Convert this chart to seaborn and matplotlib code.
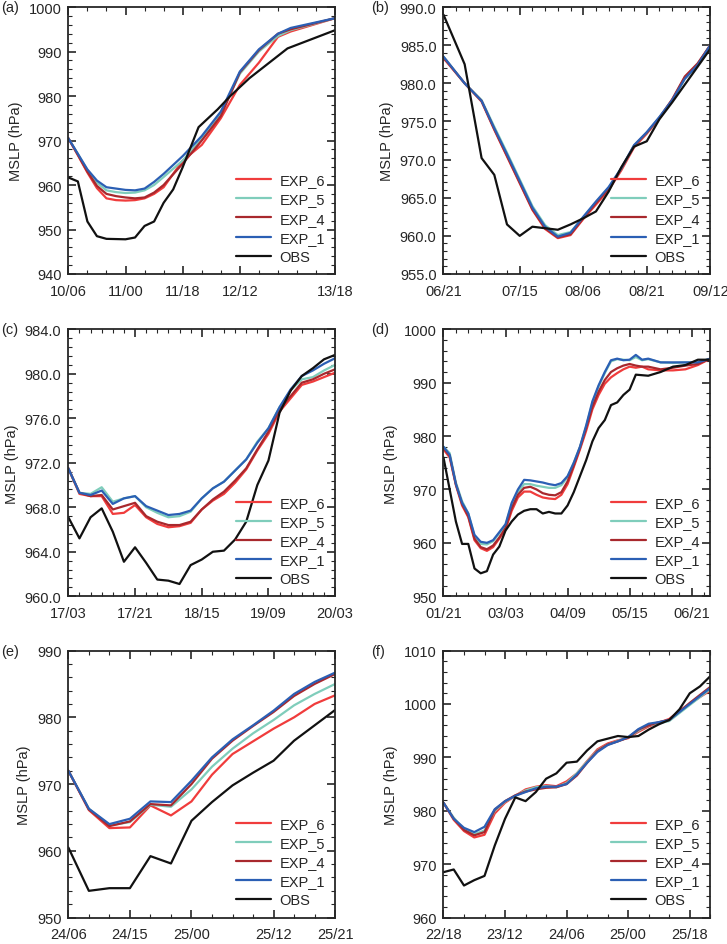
import numpy as np
import pandas as pd
import matplotlib
matplotlib.use("Agg")
import matplotlib.pyplot as plt
import seaborn as sns
from matplotlib.ticker import MultipleLocator, AutoMinorLocator, FormatStrFormatter

sns.set_style("ticks")
plt.rcParams['font.family'] = ['Liberation Sans', 'DejaVu Sans']
plt.rcParams['font.size'] = 10.5

series_names = ['EXP_6', 'EXP_5', 'EXP_4', 'EXP_1', 'OBS']
colors = {'EXP_6': '#f03c3c', 'EXP_5': '#7fcdbb', 'EXP_4': '#a8282d',
          'EXP_1': '#2b5fb4', 'OBS': '#111111'}

# ---- (a) ----
a_hours = [0, 3, 6, 9, 12, 15, 18, 21, 24, 27, 30, 36, 42, 48, 54, 60, 66, 70, 84]
a_exp1 = [970.5, 967, 963.5, 961, 959.5, 959.2, 958.9, 958.8, 959.2, 960.7, 962.5, 966.5, 971, 976.5, 985.5, 990.5, 994, 995.3, 997.5]
a_exp5 = [970.5, 967, 963.3, 960.5, 958.8, 958.4, 958.2, 958.3, 958.8, 960, 961.8, 965.5, 970.5, 976, 985, 990, 993.5, 994.8, 997.5]
a_exp4 = [970.5, 966.8, 963, 959.8, 958, 957.5, 957.2, 957, 957.2, 958.3, 960, 964.8, 970, 975.5, 985.3, 990.3, 994, 995, 997.5]
a_exp6 = [970.5, 966.7, 962.8, 959.3, 957, 956.6, 956.5, 956.6, 957, 958, 959.5, 965.5, 969, 975, 982.5, 987.5, 993.3, 994.5, 997.5]
a_obs_hours = [0, 3, 6, 9, 12, 18, 21, 24, 27, 30, 33, 36, 41, 47, 51, 57, 69, 84]
a_obs = [961.7, 960.8, 951.8, 948.5, 947.9, 947.8, 948.2, 950.8, 951.8, 956, 959, 964, 973, 977, 980, 984, 990.7, 994.8]

# ---- (b) ----
b_hours = [0, 5, 9, 12, 15, 18, 21, 24, 27, 30, 33, 36, 39, 42, 45, 48, 51, 54, 57, 60, 63]
b_exp1 = [983.5, 980, 977.7, 974.1, 970.7, 967.2, 963.7, 961.2, 959.9, 960.4, 962.5, 964.5, 966.4, 968.9, 971.9, 973.6, 975.6, 977.8, 980.6, 982.4, 985]
b_exp5 = [983.5, 980, 977.8, 974.3, 970.9, 967.4, 963.9, 961.4, 960.1, 960.5, 962.4, 964.4, 966.3, 968.8, 971.8, 973.5, 975.5, 977.7, 980.6, 982.4, 985]
b_exp4 = [983.4, 980, 977.7, 974, 970.5, 967, 963.5, 961, 959.8, 960.2, 962.3, 964.3, 966.2, 968.8, 971.8, 973.5, 975.5, 977.9, 980.9, 982.6, 985]
b_exp6 = [983.3, 980, 977.6, 973.9, 970.4, 966.9, 963.4, 960.9, 959.7, 960.1, 962.2, 964.1, 966, 968.6, 971.6, 973.4, 975.4, 977.8, 980.8, 982.5, 985]
b_obs_hours = [0, 5, 9, 12, 15, 18, 21, 24, 27, 30, 33, 36, 39, 42, 45, 48, 51, 54, 63]
b_obs = [989, 982.5, 970.2, 968, 961.5, 960, 961.2, 961, 960.8, 961.5, 962.3, 963.2, 965.8, 969, 971.7, 972.4, 975.3, 977.5, 984.5]

# ---- (c) ----
c_hours = list(range(0, 73, 3))
c_exp1 = [971.5, 969.3, 969.1, 969.5, 968.3, 968.8, 969, 968.1, 967.7, 967.3, 967.4, 967.7, 968.8, 969.7, 970.3, 971.3, 972.3, 973.8, 975.1, 977, 978.6, 979.8, 980.3, 980.9, 981.4]
c_exp5 = [971.5, 969.3, 969.2, 969.8, 968.5, 968.8, 969, 968, 967.5, 967.1, 967.2, 967.6, 968.8, 969.7, 970.3, 971.3, 972.3, 973.9, 975.1, 977, 978.5, 979.5, 979.7, 980.3, 980.8]
c_exp4 = [971.5, 969.3, 969, 969.1, 967.8, 968.1, 968.4, 967.2, 966.7, 966.4, 966.4, 966.7, 967.8, 968.7, 969.4, 970.4, 971.5, 973.2, 974.8, 976.8, 978, 979.2, 979.5, 980, 980.4]
c_exp6 = [971.5, 969.2, 969, 969, 967.4, 967.5, 968.2, 967.1, 966.5, 966.2, 966.3, 966.6, 967.8, 968.6, 969.2, 970.2, 971.4, 973.1, 974.6, 976.6, 977.8, 979, 979.3, 979.7, 980.1]
c_obs = [967.1, 965.2, 967.1, 967.9, 965.8, 963.1, 964.4, 963, 961.5, 961.4, 961.1, 962.8, 963.3, 964, 964.1, 965.1, 966.7, 970, 972.2, 976.5, 978.5, 979.8, 980.5, 981.3, 981.7]

# ---- (d) ----
d_hours = list(range(0, 100, 3)) + [105, 111, 117, 123, 129]
d_exp1 = [978, 976.5, 971, 967.5, 965.5, 961.5, 960.2, 960, 960.5, 962, 963.5,
          967.5, 970, 971.8, 971.7, 971.5, 971.3, 971, 970.8, 971.2,
          972.5, 975, 978, 982, 986.5, 989.5, 992, 994.2, 994.5, 994.2, 994.3, 995.2, 994.3, 994.5,
          993.8, 993.8, 993.8, 993.8, 994.5]
d_exp5 = [978, 976.8, 971.3, 967.8, 965.5, 961.2, 959.8, 959.7, 960.3, 961.8, 963.3,
          967.2, 969.5, 971, 971, 970.7, 970.5, 970.3, 970.3, 970.8,
          972.3, 975, 978, 981.8, 986.2, 989.3, 991.8, 994, 994.4, 994.3, 994.2, 994.8, 994.2, 994.4,
          993.8, 993.7, 993.8, 993.8, 994.5]
d_exp4 = [977.8, 976.3, 971, 967.3, 965, 960.8, 959.2, 958.8, 959.5, 961, 962.8,
          966.5, 969, 970.3, 970.5, 970, 969.3, 969, 968.9, 969.5,
          971.5, 974.5, 977.8, 981.5, 985.5, 988.3, 990.5, 992, 992.7, 993.2, 993.5, 993.2, 993, 993,
          992.5, 992.8, 993.2, 993.5, 994.5]
d_exp6 = [977.5, 976, 970.8, 967, 964.8, 960.5, 959, 958.5, 959.2, 960.8, 962.5,
          966, 968.5, 969.6, 969.6, 969, 968.5, 968.3, 968.2, 969,
          971, 974.2, 977.5, 981, 985, 987.7, 989.8, 991, 991.8, 992.5, 993, 992.8, 993, 992.5,
          992.3, 992.3, 992.5, 993.3, 994.5]
d_obs_hours = list(range(0, 94, 3)) + [99, 105, 111, 117, 123, 129]
d_obs = [976, 970, 964, 959.8, 959.8, 955.2, 954.3, 954.7, 957.8, 959.3, 962.3,
         964, 965.3, 966, 966.3, 966.3, 965.5, 965.8, 965.5, 965.5,
         967, 969.5, 972.5, 975.5, 979, 981.5, 983, 985.8, 986.3, 987.7, 988.7, 991.5,
         991.3, 992, 993, 993.3, 994.3, 994.3]

# ---- (e) ----
e_hours = list(range(0, 40, 3))
e_exp1 = [972, 966.3, 964, 964.8, 967.4, 967.3, 970.5, 974, 976.7, 978.8, 981, 983.5, 985.3, 986.7]
e_exp5 = [972, 966.3, 963.8, 964.3, 966.9, 966.6, 969.2, 972.6, 975.3, 977.6, 979.6, 981.8, 983.5, 985]
e_exp4 = [972, 966.2, 963.7, 964.4, 967, 966.8, 970, 973.8, 976.5, 978.7, 980.8, 983.2, 985, 986.5]
e_exp6 = [972, 966.1, 963.4, 963.5, 966.8, 965.3, 967.4, 971.4, 974.5, 976.4, 978.3, 980, 982, 983.3]
e_obs = [960.5, 954, 954.4, 954.4, 959.2, 958.1, 964.5, 967.3, 969.8, 971.7, 973.5, 976.5, 978.8, 981.1]

# ---- (f) ----
f_hours = list(range(0, 79, 3))
f_exp1 = [981.5, 978.5, 976.8, 976, 977, 980.3, 981.8, 982.8, 983.5, 984.2, 984.5, 984.5, 985, 986.8, 989, 991, 992.3, 993, 993.8, 995.3, 996.3, 996.6, 997, 998.5, 1000, 1001.5, 1003]
f_exp5 = [981.5, 978.7, 976.5, 975.6, 976.3, 980, 981.7, 982.8, 983.8, 984.4, 984.6, 984.4, 985.2, 987, 989.2, 991.3, 992.4, 993.1, 993.7, 995, 996, 996.4, 996.8, 998.3, 999.8, 1001.3, 1002.8]
f_exp4 = [981.5, 978.5, 976.4, 975.4, 976, 980.2, 981.8, 982.9, 983.6, 984, 984.3, 984.4, 985, 986.6, 989, 991.2, 992.4, 993, 993.7, 995.2, 996, 996.6, 997, 998.6, 1000.2, 1001.7, 1003.2]
f_exp6 = [981.5, 978.3, 976.2, 975, 975.5, 979.5, 981.5, 982.8, 984, 984.5, 984.8, 984.6, 985.5, 987, 989.3, 991.5, 992.6, 993.2, 993.6, 994.8, 995.8, 996.5, 997.2, 998.7, 1000, 1001.3, 1002.5]
f_obs = [968.5, 969, 966, 967, 967.8, 973.5, 978.5, 982.5, 981.8, 983.5, 986, 987, 989, 989.2, 991.3, 993, 993.5, 994, 993.8, 994, 995.2, 996.2, 997, 999, 1002, 1003.3, 1005.2]

panels = [
    dict(lab='(a)', h=a_hours, exp=[a_exp6, a_exp5, a_exp4, a_exp1], oh=a_obs_hours, obs=a_obs,
         xt=[0, 18, 36, 54, 84], xl=['10/06', '11/00', '11/18', '12/12', '13/18'], xlim=(0, 84),
         ylim=(940, 1000), ys=10, fmt='%d', xminor=6),
    dict(lab='(b)', h=b_hours, exp=[b_exp6, b_exp5, b_exp4, b_exp1], oh=b_obs_hours, obs=b_obs,
         xt=[0, 18, 33, 48, 63], xl=['06/21', '07/15', '08/06', '08/21', '09/12'], xlim=(0, 63),
         ylim=(955, 990), ys=5, fmt='%.1f', xminor=3),
    dict(lab='(c)', h=c_hours, exp=[c_exp6, c_exp5, c_exp4, c_exp1], oh=c_hours, obs=c_obs,
         xt=[0, 18, 36, 54, 72], xl=['17/03', '17/21', '18/15', '19/09', '20/03'], xlim=(0, 72),
         ylim=(960, 984), ys=4, fmt='%.1f', xminor=3),
    dict(lab='(d)', h=d_hours, exp=[d_exp6, d_exp5, d_exp4, d_exp1], oh=d_obs_hours, obs=d_obs,
         xt=[0, 30, 60, 90, 120], xl=['01/21', '03/03', '04/09', '05/15', '06/21'], xlim=(0, 129),
         ylim=(950, 1000), ys=10, fmt='%d', xminor=6),
    dict(lab='(e)', h=e_hours, exp=[e_exp6, e_exp5, e_exp4, e_exp1], oh=e_hours, obs=e_obs,
         xt=[0, 9, 18, 30, 39], xl=['24/06', '24/15', '25/00', '25/12', '25/21'], xlim=(0, 39),
         ylim=(950, 990), ys=10, fmt='%d', xminor=3),
    dict(lab='(f)', h=f_hours, exp=[f_exp6, f_exp5, f_exp4, f_exp1], oh=f_hours, obs=f_obs,
         xt=[0, 18, 36, 54, 72], xl=['22/18', '23/12', '24/06', '25/00', '25/18'], xlim=(0, 78),
         ylim=(960, 1010), ys=10, fmt='%d', xminor=6),
]

fig = plt.figure(figsize=(7.27, 9.45), dpi=100)
lefts = [0.094, 0.610]
bottoms = [0.709, 0.368, 0.028]
W, H = 0.367, 0.2825

for i, p in enumerate(panels):
    ax = fig.add_axes([lefts[i % 2], bottoms[i // 2], W, H])
    rows = []
    for name, vals in zip(series_names[:4], p['exp']):
        rows += [(hh, v, name) for hh, v in zip(p['h'], vals)]
    rows += [(hh, v, 'OBS') for hh, v in zip(p['oh'], p['obs'])]
    df = pd.DataFrame(rows, columns=['hour', 'mslp', 'series'])
    sns.lineplot(data=df, x='hour', y='mslp', hue='series', hue_order=series_names,
                 palette=colors, linewidth=1.6, ax=ax, sort=False)
    ax.set_xlim(*p['xlim'])
    ax.set_ylim(*p['ylim'])
    ax.set_xticks(p['xt'])
    ax.set_xticklabels(p['xl'])
    ax.xaxis.set_minor_locator(MultipleLocator(p['xminor']))
    ax.yaxis.set_major_locator(MultipleLocator(p['ys']))
    ax.yaxis.set_minor_locator(AutoMinorLocator(5))
    ax.yaxis.set_major_formatter(FormatStrFormatter(p['fmt']))
    ax.tick_params(which='both', direction='in', top=True, right=True, labelsize=10.5)
    ax.tick_params(which='major', length=6, width=1.2)
    ax.tick_params(which='minor', length=3, width=0.8)
    ax.tick_params(axis='x', pad=7)
    ax.tick_params(axis='y', pad=5)
    for s in ax.spines.values():
        s.set_linewidth(1.3)
    ax.set_xlabel('')
    ax.set_ylabel('MSLP (hPa)', fontsize=10.5, labelpad=4)
    ax.legend(loc='lower right', frameon=False, fontsize=10.5, handlelength=2.4,
              handletextpad=0.6, labelspacing=0.35, borderaxespad=0.3)
    lx = 0.001 if i % 2 == 0 else lefts[1] - 0.1
    fig.text(lx, bottoms[i // 2] + H, p['lab'], ha='left', va='center', fontsize=10.5)

fig.savefig('out.png', dpi=100)
